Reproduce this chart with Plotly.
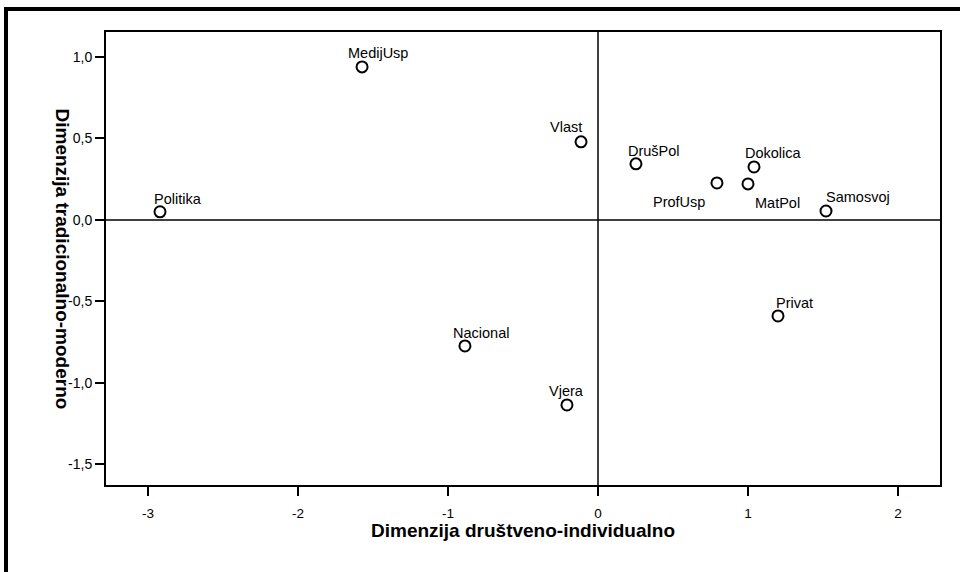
import plotly.graph_objects as go

labels = ["Politika", "MedijUsp", "Vlast", "DrušPol", "ProfUsp", "Dokolica",
          "MatPol", "Samosvoj", "Privat", "Nacional", "Vjera"]
x_vals = [-2.92, -1.573, -0.113, 0.253, 0.793, 1.04, 1.0, 1.52, 1.2, -0.887, -0.207]
y_vals = [0.05, 0.939, 0.479, 0.344, 0.227, 0.325, 0.221, 0.055, -0.589, -0.773, -1.135]

x_ticks = [-3, -2, -1, 0, 1, 2]
x_ticktext = ["-3", "-2", "-1", "0", "1", "2"]
y_ticks = [1.0, 0.5, 0.0, -0.5, -1.0, -1.5]
y_ticktext = ["1,0", "0,5", "0,0", "-0,5", "-1,0", "-1,5"]

x_title = "Dimenzija društveno-individualno"
y_title = "Dimenzija tradicionalno-moderno"

# label placement (pixel offsets, anchor)
label_dx = [-8, -16, -33, -10, -10, -11, 5, -2, -4, -14, -20]
label_dy = [13, 14, 15, 13, -19, 14, -19, 14, 13, 13, 14]
label_anchor = ["left", "left", "left", "left", "right", "left", "left", "left", "left", "left", "left"]

FONT = "Liberation Sans, Arial, sans-serif"

fig = go.Figure()
fig.add_trace(go.Scatter(
    x=x_vals, y=y_vals, mode="markers",
    marker=dict(symbol="circle-open", size=11, color="black", line=dict(width=2, color="black")),
    hoverinfo="text", text=labels, showlegend=False,
))

for lab, xv, yv, dx, dy, anc in zip(labels, x_vals, y_vals, label_dx, label_dy, label_anchor):
    fig.add_annotation(x=xv, y=yv, text=lab, showarrow=False, xanchor=anc, yanchor="middle",
                       xshift=dx, yshift=dy, font=dict(family=FONT, size=14.5, color="black"))

# reference lines at zero
fig.add_shape(type="line", xref="x", yref="paper", x0=0, x1=0, y0=0, y1=1,
              line=dict(color="black", width=1.5))
fig.add_shape(type="line", xref="paper", yref="y", x0=0, x1=1, y0=0, y1=0,
              line=dict(color="black", width=1.5))

# layout geometry in page pixels
L, R, T, B = 106, 20, 32, 87
W, H = 960, 572
pw, ph = W - L - R, H - T - B
def px(xp):
    return (xp - L) / pw
def py(yp):
    return (H - B - yp) / ph

# outer frame (left and top thick borders)
fig.add_shape(type="line", xref="paper", yref="paper", x0=px(6), x1=px(6), y0=py(7), y1=py(575),
              line=dict(color="black", width=4))
fig.add_shape(type="line", xref="paper", yref="paper", x0=px(4), x1=px(965), y0=py(9), y1=py(9),
              line=dict(color="black", width=4))

# axis titles
fig.add_annotation(xref="paper", yref="paper", x=0.5, y=py(530), text="<b>" + x_title + "</b>",
                   showarrow=False, xanchor="center", yanchor="middle",
                   font=dict(family=FONT, size=19, color="black"))
fig.add_annotation(xref="paper", yref="paper", x=px(62), y=0.5, text="<b>" + y_title + "</b>",
                   showarrow=False, xanchor="center", yanchor="middle", textangle=90,
                   font=dict(family=FONT, size=19, color="black"))

fig.update_layout(
    width=W, height=H,
    margin=dict(l=L, r=R, t=T, b=B),
    paper_bgcolor="white", plot_bgcolor="white",
    font=dict(family=FONT, color="black"),
    xaxis=dict(range=[-3.28, 2.28], tickvals=x_ticks, ticktext=x_ticktext,
               showgrid=False, zeroline=False, showline=True, linecolor="black", linewidth=2,
               mirror=True, ticks="outside", ticklen=9, tickwidth=2, tickcolor="black",
               ticklabelstandoff=6,
               tickfont=dict(size=13.5, family=FONT)),
    yaxis=dict(range=[-1.626, 1.153], tickvals=y_ticks, ticktext=y_ticktext,
               showgrid=False, zeroline=False, showline=True, linecolor="black", linewidth=2,
               mirror=True, ticks="outside", ticklen=9, tickwidth=2, tickcolor="black",
               tickfont=dict(size=14, family=FONT)),
)

fig.write_html("out.html", config={"displayModeBar": False},
               post_script="document.body.style.margin='0';document.body.style.overflow='hidden';")
